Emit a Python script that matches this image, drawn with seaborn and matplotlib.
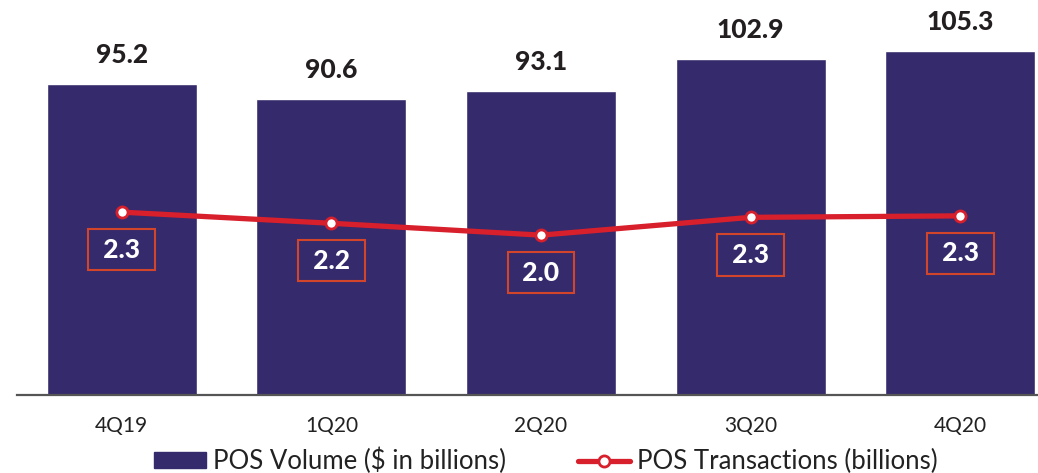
import numpy as np
import matplotlib
matplotlib.use("Agg")
import matplotlib.pyplot as plt
import seaborn as sns
from matplotlib.patches import Patch
from matplotlib.lines import Line2D

quarters = ["4Q19", "1Q20", "2Q20", "3Q20", "4Q20"]
pos_volume = [95.2, 90.6, 93.1, 102.9, 105.3]
pos_transactions = [2.33, 2.18, 2.02, 2.26, 2.28]

NAVY = "#352a6b"
RED = "#d81f2c"
BOX = "#d2452a"

sns.set_style("white")
plt.rcParams["font.family"] = ["Lato", "DejaVu Sans"]

fig = plt.figure(figsize=(10.38, 4.73), dpi=100)
ax = fig.add_axes([17 / 1038, 78 / 473, 1048 / 1038, 395 / 473])

x = np.arange(len(quarters))
sns.barplot(x=x, y=pos_volume, color=NAVY, width=0.716, saturation=1, ax=ax)
ax.set_xlim(-0.5, 4.5)
ax.set_ylim(0, 121)
ax.set_xticks(x)
ax.set_xticklabels(quarters, fontsize=15, color="#222222")
ax.tick_params(axis="x", length=0, pad=15)
ax.set_yticks([])
for s in ["top", "left", "right"]:
    ax.spines[s].set_visible(False)
ax.spines["bottom"].set_color("#555555")
ax.spines["bottom"].set_linewidth(1.6)

for xi, v in zip(x, pos_volume):
    ax.annotate(f"{v:.1f}", (xi, v), xytext=(0, 21), textcoords="offset points",
                ha="center", va="center", fontsize=19, fontweight=900, color="#231f20")

ax2 = ax.twinx()
sns.lineplot(x=x, y=pos_transactions, ax=ax2, color=RED, linewidth=3.8,
             marker="o", markersize=8, markerfacecolor="white",
             markeredgecolor=RED, markeredgewidth=2)
ax2.set_ylim(-0.135, 5.19)
ax2.set_yticks([])
for s in ax2.spines.values():
    s.set_visible(False)

for xi, v in zip(x, pos_transactions):
    ax2.annotate(f" {v:.1f} ", (xi, v), xytext=(0, -27), textcoords="offset points",
                 ha="center", va="center", fontsize=19, fontweight=900, color="white",
                 bbox=dict(boxstyle="square,pad=0.33", fc="none", ec=BOX, lw=1.5))

handles = [
    Patch(facecolor=NAVY, edgecolor=NAVY),
    Line2D([0], [0], color=RED, lw=3.8, marker="o", markersize=8,
           markerfacecolor="white", markeredgecolor=RED, markeredgewidth=2),
]
labels = ["POS Volume ($ in billions)", "POS Transactions (billions)"]
fig.legend(handles, labels, loc="center", bbox_to_anchor=(546 / 1038, 1 - 461 / 473),
           ncol=2, frameon=False, fontsize=18.5, handlelength=2.0, handleheight=0.6,
           handletextpad=0.3, columnspacing=2.8, labelcolor="#222222",
           borderpad=0, borderaxespad=0)

fig.savefig("out.png", dpi=100)
